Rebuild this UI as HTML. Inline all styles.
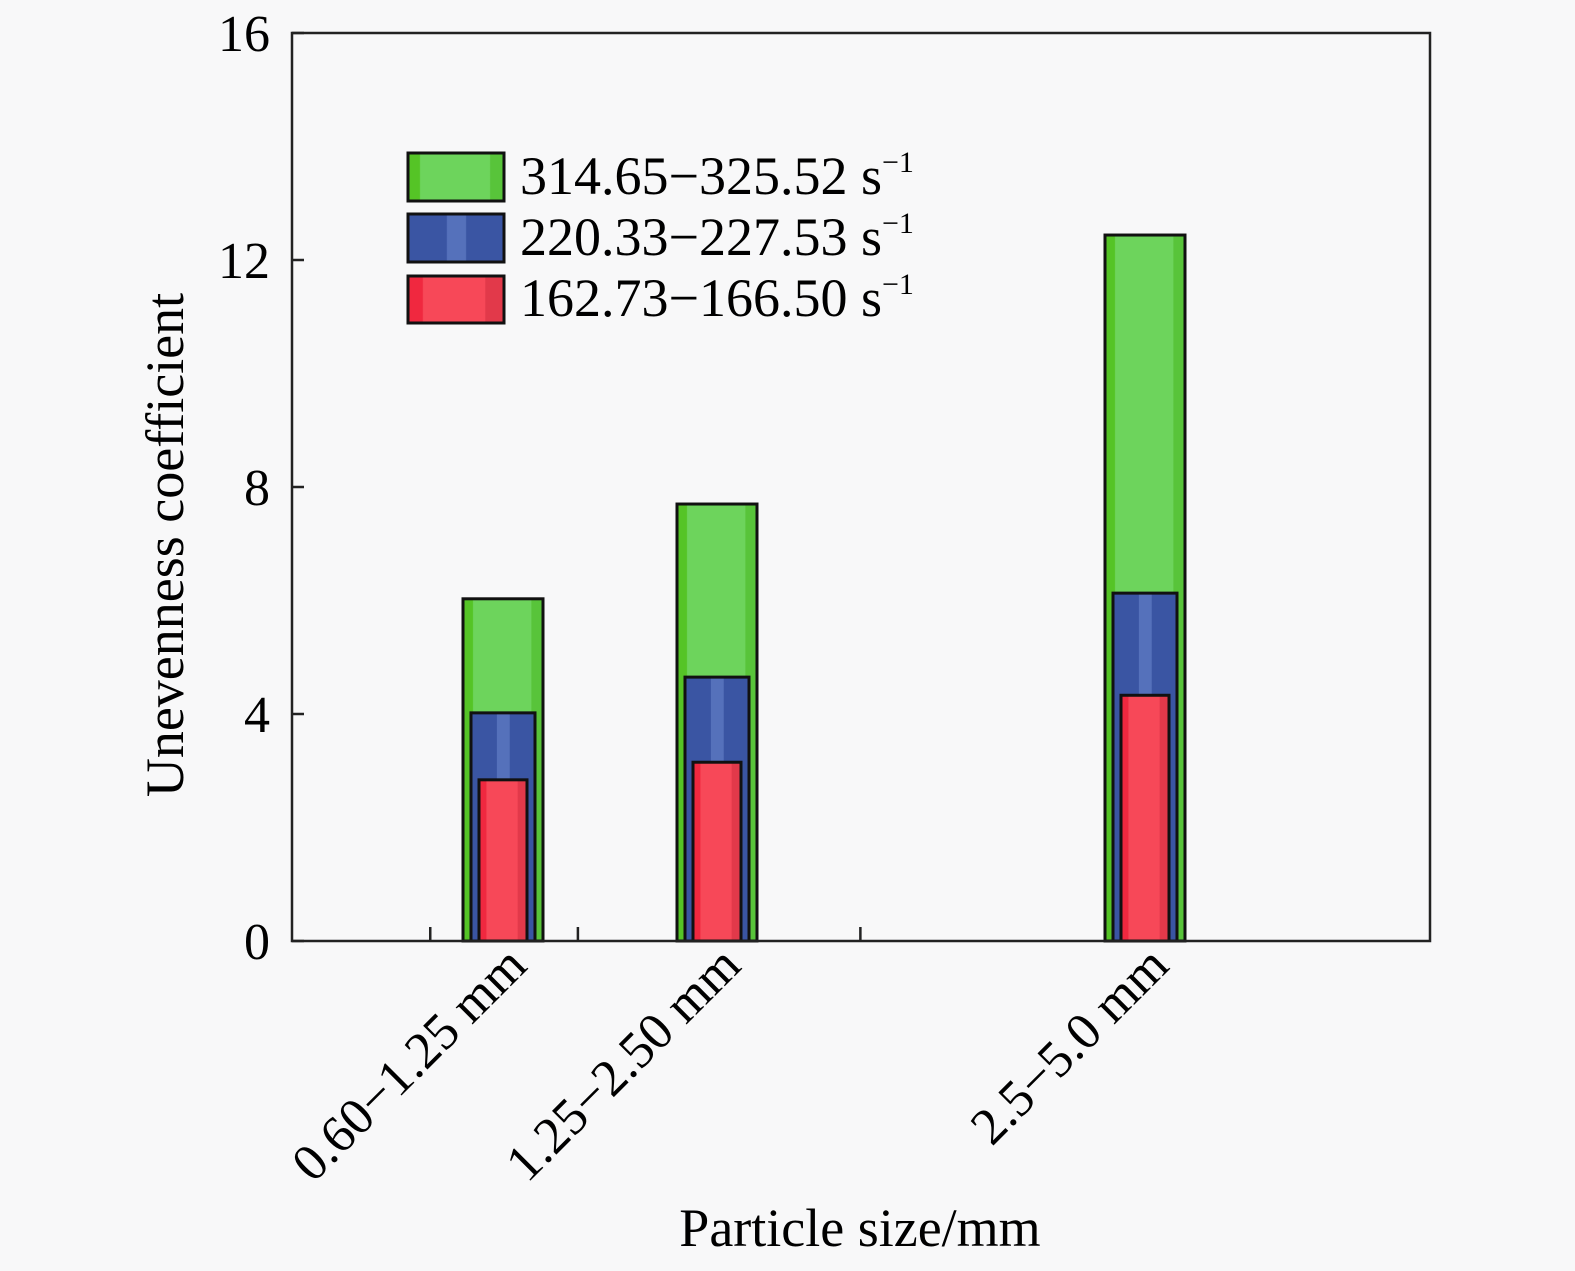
<!DOCTYPE html>
<html><head><meta charset="utf-8"><style>
body{margin:0;background:#f8f8f9;}
svg{display:block;font-family:"Liberation Serif",serif;}
</style></head><body>
<svg width="1575" height="1271">
<defs>
<linearGradient id="gG" x1="0" x2="1"><stop offset="0" stop-color="#55c426"/><stop offset="0.12" stop-color="#55c426"/><stop offset="0.13" stop-color="#6dd45c"/><stop offset="0.85" stop-color="#6dd45c"/><stop offset="0.86" stop-color="#58c43a"/><stop offset="1" stop-color="#58c43a"/></linearGradient>
<linearGradient id="gB" x1="0" x2="1"><stop offset="0" stop-color="#3a55a3"/><stop offset="0.4" stop-color="#3a55a3"/><stop offset="0.41" stop-color="#5571bb"/><stop offset="0.6" stop-color="#5571bb"/><stop offset="0.61" stop-color="#3a55a3"/><stop offset="1" stop-color="#3a55a3"/></linearGradient>
<linearGradient id="gR" x1="0" x2="1"><stop offset="0" stop-color="#f0283f"/><stop offset="0.15" stop-color="#f0283f"/><stop offset="0.16" stop-color="#f74858"/><stop offset="0.8" stop-color="#f74858"/><stop offset="0.81" stop-color="#e2394a"/><stop offset="1" stop-color="#e2394a"/></linearGradient>
</defs>
<g id="bars"></g>
<g id="axes"></g>
<g id="legend">
<rect x="408" y="153" width="96" height="48" fill="url(#gG)" stroke="#111" stroke-width="3"/>
<rect x="408" y="214" width="96" height="48" fill="url(#gB)" stroke="#111" stroke-width="3"/>
<rect x="408" y="276" width="96" height="47" fill="url(#gR)" stroke="#111" stroke-width="3"/>
<text x="520" y="194" font-size="54">314.65−325.52 s<tspan font-size="30" dy="-22">−1</tspan></text>
<text x="520" y="255" font-size="54">220.33−227.53 s<tspan font-size="30" dy="-22">−1</tspan></text>
<text x="520" y="316" font-size="54">162.73−166.50 s<tspan font-size="30" dy="-22">−1</tspan></text>
</g>
<text x="860" y="1246" font-size="54" text-anchor="middle">Particle size/mm</text>
<text transform="translate(183,545) rotate(-90)" font-size="54" text-anchor="middle">Unevenness coefficient</text>
</svg>
<script>
const categories=["0.60−1.25 mm","1.25−2.50 mm","2.5−5.0 mm"];
const catX=[1,2,4];
const green=[6.03,7.70,12.44];
const blue=[4.02,4.65,6.13];
const red=[2.84,3.15,4.33];
const yTicks=[0,4,8,12,16];
const xTicks=[0.66,1.35,2.67];
const L=292,R=1430,T=33,B=941;
const ys=v=>B-(v/16)*(B-T);
const xs=v=>503+(v-1)*214;
const NS="http://www.w3.org/2000/svg";
const bars=document.getElementById('bars'),axes=document.getElementById('axes');
function mk(tag,at,p){const e=document.createElementNS(NS,tag);for(const k in at)e.setAttribute(k,at[k]);p.appendChild(e);return e;}
const series=[[green,40,'url(#gG)','green'],[blue,32,'url(#gB)','blue'],[red,24,'url(#gR)','red']];
series.forEach(s=>{s[0].forEach((v,i)=>{const cx=xs(catX[i]);
const r=mk('rect',{x:cx-s[1],y:ys(v),width:s[1]*2,height:B-ys(v),fill:s[2],stroke:'#111','stroke-width':3},bars);

});});
const frame=mk('rect',{x:L,y:T,width:R-L,height:B-T,fill:'none',stroke:'#222','stroke-width':2.5},axes);


yTicks.forEach(v=>{mk('line',{x1:L,x2:L+12,y1:ys(v),y2:ys(v),stroke:'#222','stroke-width':2.5},axes);
const t=mk('text',{x:L-22,y:ys(v)+18,'font-size':52,'text-anchor':'end'},axes);t.textContent=v;

});
xTicks.forEach(v=>{mk('line',{x1:xs(v),x2:xs(v),y1:B,y2:B-14,stroke:'#222','stroke-width':2.5},axes);});
categories.forEach((c,i)=>{const x=xs(catX[i])+26,y=968;
const t=mk('text',{transform:`translate(${x},${y}) rotate(-45)`,'font-size':52,'text-anchor':'end'},axes);t.textContent=c;

});
</script>
</body></html>
